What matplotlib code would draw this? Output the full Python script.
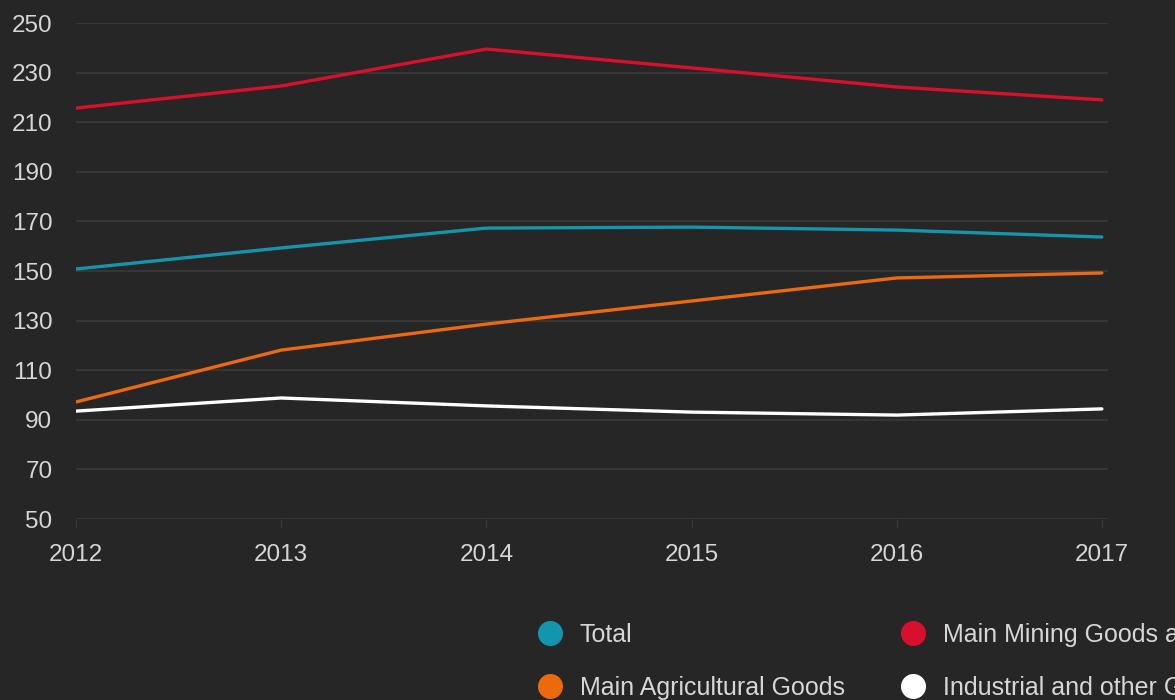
import matplotlib.pyplot as plt
from matplotlib.lines import Line2D

plt.rcParams['font.family'] = ['Liberation Sans', 'DejaVu Sans']

# dane
years = [2012, 2013, 2014, 2015, 2016, 2017]
total = [150.8, 159.3, 167.3, 167.7, 166.5, 163.7]
mining = [215.7, 224.6, 239.5, 231.9, 224.2, 219.0]
agricultural = [97.2, 118.1, 128.6, 137.9, 147.2, 149.2]
industrial = [93.5, 98.8, 95.6, 93.1, 91.9, 94.4]

labels = ["Total", "Main Agricultural Goods",
          "Main Mining Goods and Fuels", "Industrial and other Goods"]
colors = ["#1396ad", "#ec6a0c", "#d8102c", "#ffffff"]
series = [total, agricultural, mining, industrial]

bg = "#262626"
txt = "#d6d6d6"
grid = "#3a3a3a"

fig = plt.figure(figsize=(11.75, 7), dpi=100, facecolor=bg)
ax = fig.add_axes([76 / 1175, 1 - 519 / 700, (1108 - 76) / 1175, (519 - 23) / 700])
ax.set_facecolor(bg)

for vals, c in zip(series, colors):
    ax.plot(years, vals, color=c, linewidth=2.4, solid_capstyle='round')

ax.set_xlim(2012, 2017.03)
ax.set_ylim(50, 250)
ax.set_yticks(range(50, 251, 20))
ax.set_xticks(years)
ax.grid(axis='y', color=grid, linewidth=1.2)
ax.set_axisbelow(True)
for s in ax.spines.values():
    s.set_visible(False)
ax.tick_params(axis='y', length=0, labelcolor=txt, labelsize=17.5, pad=17)
ax.tick_params(axis='x', length=6, color=grid, labelcolor=txt, labelsize=17.5, pad=12)

# legenda (ucięta z prawej strony jak w oryginale)
handles = [Line2D([], [], linestyle='none', marker='o', markersize=17,
                  markerfacecolor=c, markeredgecolor=c) for c in colors]
fig.legend(handles, labels, ncol=2, loc='upper left',
           bbox_to_anchor=(537 / 1175, 1 - 623 / 700), frameon=False,
           borderpad=0, borderaxespad=0, handlelength=1.0, handletextpad=0.7,
           columnspacing=2.25, labelspacing=1.15, labelcolor=txt, fontsize=18)

fig.savefig("out.png", dpi=100, facecolor=bg)
